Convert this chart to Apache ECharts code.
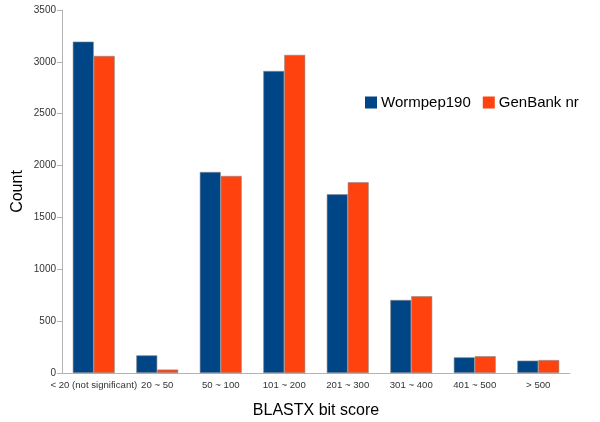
<!DOCTYPE html>
<html><head><meta charset="utf-8">
<script src="https://cdn.jsdelivr.net/npm/echarts@6/dist/echarts.min.js"></script>
<style>html,body{margin:0;padding:0;background:#fff}#c{width:600px;height:422px}</style>
</head><body><div id="c"></div>
<script>
var categories = ['< 20 (not significant)', '20 ~ 50', '50 ~ 100', '101 ~ 200', '201 ~ 300', '301 ~ 400', '401 ~ 500', '> 500'];
var wormpep = [3195, 170, 1938, 2912, 1723, 704, 151, 119];
var genbank = [3057, 33, 1900, 3067, 1839, 740, 162, 125];
var yTicks = [0, 500, 1000, 1500, 2000, 2500, 3000, 3500];

var chart = echarts.init(document.getElementById('c'), null, {renderer: 'canvas'});
var font = 'Liberation Sans, Arial, sans-serif';
chart.setOption({
  animation: false,
  backgroundColor: '#fff',
  grid: {left: 62, right: 30, top: 10, bottom: 49, containLabel: false, outerBoundsMode: 'none'},
  legend: {
    left: 360, top: 90, itemWidth: 12, itemHeight: 12, itemGap: 12,
    icon: 'rect',
    itemStyle: {borderWidth: 0},
    textStyle: {fontFamily: font, fontSize: 15, color: '#000', padding: [0,0,0,-1]},
    data: ['Wormpep190', 'GenBank nr']
  },
  xAxis: {
    type: 'category', data: categories,
    name: 'BLASTX bit score', nameLocation: 'middle', nameGap: 30,
    nameTextStyle: {fontFamily: font, fontSize: 16, color: '#000'},
    axisLine: {lineStyle: {color: '#b3b3b3'}},
    axisTick: {alignWithLabel: true, length: 5, lineStyle: {color: '#b3b3b3'}},
    axisLabel: {fontFamily: font, fontSize: 9.6, color: '#333', interval: 0, margin: 7}
  },
  yAxis: {
    type: 'value', min: 0, max: 3500, interval: 500,
    name: 'Count', nameLocation: 'middle', nameGap: 36, nameMoveOverlap: false,
    nameTextStyle: {fontFamily: font, fontSize: 16, color: '#000'},
    axisLine: {show: true, lineStyle: {color: '#b3b3b3'}},
    axisTick: {show: true, length: 5, lineStyle: {color: '#b3b3b3'}},
    splitLine: {show: false},
    axisLabel: {fontFamily: font, fontSize: 10, color: '#333', margin: 6,
      formatter: function(v){ return yTicks.indexOf(v) >= 0 ? String(v) : ''; }}
  },
  series: [
    {name: 'Wormpep190', type: 'bar', data: wormpep, barGap: '0%', barCategoryGap: '34%',
     itemStyle: {color: '#004586', borderColor: '#8a8a8a', borderWidth: 0.6}},
    {name: 'GenBank nr', type: 'bar', data: genbank, barGap: '0%', barCategoryGap: '34%',
     itemStyle: {color: '#ff420e', borderColor: '#8a8a8a', borderWidth: 0.6}}
  ]
});
</script></body></html>
